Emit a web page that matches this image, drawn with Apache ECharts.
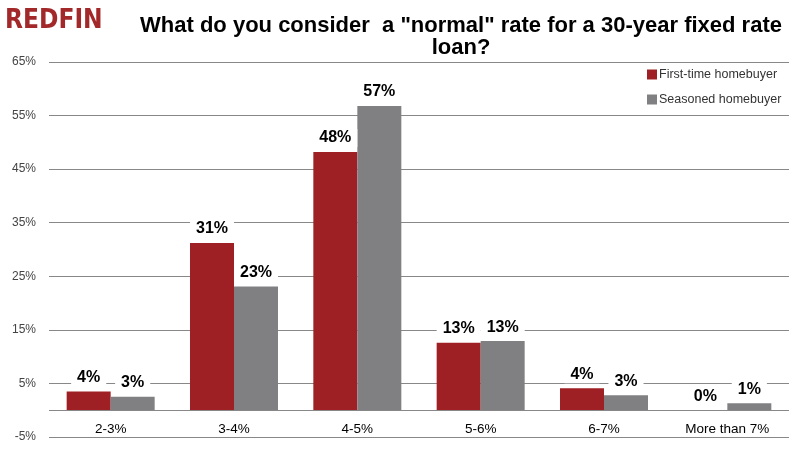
<!DOCTYPE html>
<html>
<head>
<meta charset="utf-8">
<script src="https://cdn.jsdelivr.net/npm/echarts@6/dist/echarts.min.js"></script>
<style>html,body{margin:0;padding:0;background:#fff}#c{width:804px;height:459px}</style>
</head>
<body>
<div id="c"></div>
<script>
const categories = ['2-3%', '3-4%', '4-5%', '5-6%', '6-7%', 'More than 7%'];
const firstTime = [3.5, 31.2, 48.2, 12.6, 4.1, 0];
const seasoned = [2.5, 23.1, 56.8, 12.9, 2.8, 1.3];
const seriesNames = ['First-time homebuyer', 'Seasoned homebuyer'];
const titleText = 'What do you consider  a "normal" rate for a 30-year fixed rate\nloan?';

const FONT = '"Liberation Sans", Arial, Helvetica, sans-serif';
const chart = echarts.init(document.getElementById('c'));
const labelCfg = {
  show: true, position: 'top', distance: 5,
  formatter: p => Math.round(p.value) + '%',
  color: '#000', fontSize: 16, fontWeight: 'bold', fontFamily: FONT,
  backgroundColor: '#fff', padding: [1, 6]
};
chart.setOption({
  animation: false,
  textStyle: { fontFamily: FONT },
  title: {
    text: titleText, left: 456, top: 10, textAlign: 'center',
    textStyle: { fontSize: 22, fontWeight: 'bold', color: '#000', lineHeight: 22, fontFamily: FONT }
  },
  graphic: [{
    type: 'text', left: 5, top: 8,
    style: { text: 'REDFIN', fontSize: 26, fontWeight: 'bold', fill: '#A3282A',
      fontFamily: '"Liberation Sans Narrow", "DejaVu Sans Condensed", Arial, sans-serif' }
  }],
  legend: {
    orient: 'vertical', left: 642, top: 63, itemWidth: 10, itemHeight: 10, itemGap: 12,
    icon: 'rect', data: seriesNames,
    textStyle: { fontSize: 12.5, color: '#333', padding: [0, 0, 0, -3] }
  },
  grid: { left: 49, right: 15, top: 62, bottom: 22, outerBoundsMode: 'none' },
  xAxis: {
    type: 'category', data: categories,
    axisLine: { show: false, onZero: false },
    axisTick: { show: false },
    axisLabel: { color: '#000', fontSize: 13.5, margin: -15 }
  },
  yAxis: {
    type: 'value', min: -5, max: 65, interval: 10,
    axisLine: { show: false }, axisTick: { show: false },
    axisLabel: { formatter: '{value}%', color: '#444', fontSize: 12, margin: 13 },
    splitLine: { show: true, lineStyle: { color: '#888', width: 1 } }
  },
  series: [
    { name: seriesNames[0], type: 'bar', data: firstTime, barWidth: 44, barGap: '0%',
      itemStyle: { color: '#9E2024' }, label: labelCfg, z: 3,
      markLine: { silent: true, symbol: 'none', label: { show: false },
        lineStyle: { color: '#888', width: 1, type: 'solid' }, data: [{ yAxis: 0 }] } },
    { name: seriesNames[1], type: 'bar', data: seasoned, barWidth: 44, barGap: '0%',
      itemStyle: { color: '#808083' }, label: labelCfg, z: 3 }
  ]
});
</script>
</body>
</html>
